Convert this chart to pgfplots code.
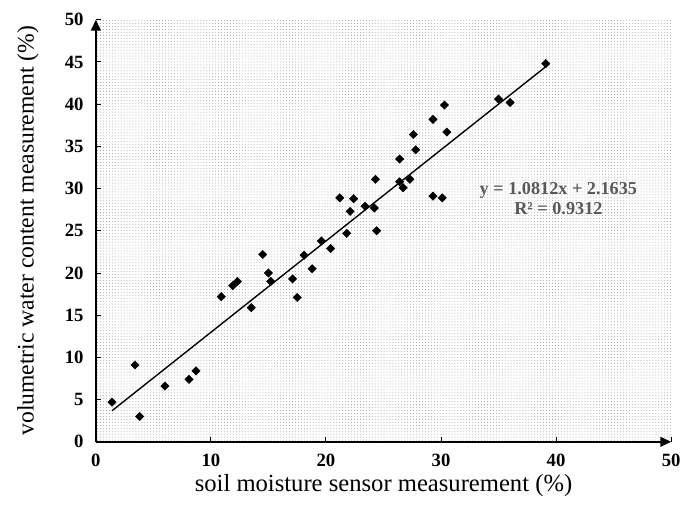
\documentclass[border=0pt]{standalone}
\usepackage{fontspec}
\setmainfont{Liberation Serif}
\usepackage{pgfplots}
\pgfplotsset{compat=1.18}
\usetikzlibrary{patterns,arrows.meta}

\pgfplotstableread{
x y
1.4 4.7
3.4 9.1
3.8 3.0
6.0 6.6
8.1 7.4
8.7 8.4
10.9 17.2
11.9 18.5
12.3 19.0
13.5 15.9
14.5 22.2
15.0 20.0
15.2 19.0
17.1 19.3
17.5 17.1
18.1 22.1
18.8 20.5
19.6 23.8
20.4 22.9
21.2 28.9
21.8 24.7
22.1 27.3
22.4 28.8
23.4 27.9
24.2 27.7
24.3 31.1
24.4 25.0
26.4 33.5
26.4 30.8
26.7 30.1
27.3 31.1
27.6 36.4
27.8 34.6
29.3 38.2
29.3 29.1
30.1 28.9
30.3 39.9
30.5 36.7
35.0 40.6
36.0 40.2
39.1 44.8
}\sensordata

\begin{document}
\begin{tikzpicture}
\useasboundingbox (-97bp,-64bp) rectangle (594bp,447bp);
\begin{axis}[
  at={(0,0)}, anchor=south west,
  scale only axis, width=582bp, height=427bp,
  xmin=0, xmax=50, ymin=0, ymax=50,
  axis lines=left,
  axis line style={line width=1.6bp, -{Triangle[length=11bp,width=10bp]}},
  axis background/.style={pattern=dots, pattern color=black!38},
  xtick={0,10,...,50}, ytick={0,5,...,50},
  tick align=inside, major tick length=5bp,
  tick style={black, line width=1bp},
  ticklabel style={font=\fontsize{19}{22}\selectfont\bfseries},
  /pgf/number format/assume math mode=true,
  yticklabel style={xshift=-9bp},
  xticklabel style={yshift=-9bp},
  xlabel={soil moisture sensor measurement (\%)},
  ylabel={volumetric water content measurement (\%)},
  every axis y label/.style={at={(axis description cs:-0.118,0.5)}, rotate=90, anchor=center, font=\fontsize{24}{28}\selectfont},
  every axis x label/.style={at={(axis description cs:0.5,-0.104)}, anchor=center, font=\fontsize{25}{29}\selectfont},
  clip=false,
]
\addplot[only marks, mark=square*, mark size=3bp, mark options={rotate=45, fill=black}] table[x=x,y=y] {\sensordata};
% trend line y = 1.0812x + 2.1635 endpoints
\addplot[black, line width=1.4bp] coordinates {(1.4,3.68) (39.1,44.44)};
\node[text=black!65, font=\fontsize{18.5}{21}\selectfont\bfseries, align=center] at (axis cs:40.2,28.8) {y = 1.0812x + 2.1635\\R² = 0.9312};
\end{axis}
\end{tikzpicture}
\end{document}
